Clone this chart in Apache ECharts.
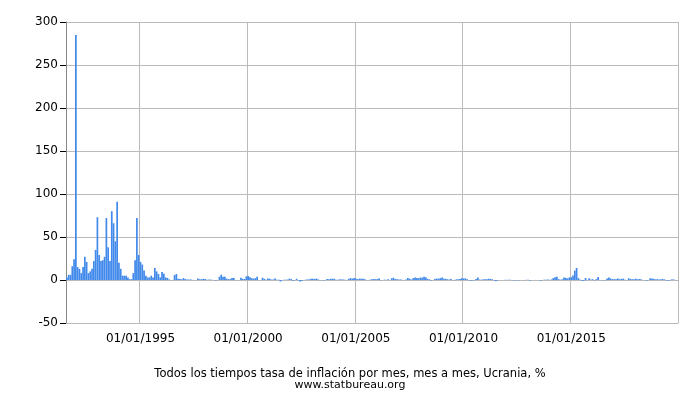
<!DOCTYPE html>
<html><head><meta charset="utf-8">
<script src="https://cdn.jsdelivr.net/npm/echarts@6/dist/echarts.min.js"></script>
<style>html,body{margin:0;padding:0;background:#fff}#c{width:700px;height:400px}</style>
</head><body><div id="c"></div>
<script>
const startYear = 1991, startMonth = 8;
const v1991 = [3,6,6,16,24];
const v1992 = [285,15,13,8,15,27,21,8,10,13,22,35];
const v1993 = [73,29,22,23,27,72,38,22,80,66,45,91];
const v1994 = [20,13,5,5,5,3,1,1,8,23,72,29];
const v1995 = [21,18,11,5,3,3,5,3,14,10,7,3];
const v1996 = [9.4,7.4,3,2.4,0.7,0.1,0.1,5.7,7,1.5,1.2,0.9];
const v1997 = [2.2,1.2,0.5,0.7,0.7,0.1,0.1,0.0,1.8,0.9,0.9,1.4];
const v1998 = [1.3,0.4,0.5,0.5,0.2,0.0,-0.5,0.0,3.8,6.2,3.7,3.8];
const v1999 = [1.5,1.0,1.0,2.3,2.4,0.1,-0.1,0.0,2.6,1.3,1.2,4.3];
const v2000 = [4.6,3.3,2.0,1.7,2.1,3.7,0.0,0.0,2.6,1.4,0.4,1.6];
const v2001 = [1.5,0.6,0.6,1.7,0.4,0.3,-1.7,-0.2,0.4,0.2,0.5,1.6];
const v2002 = [1.0,-1.0,-0.1,1.4,-0.3,-1.8,-1.0,-0.1,0.3,0.7,0.7,1.4];
const v2003 = [1.5,1.2,1.7,0.7,-0.4,0.0,-0.5,0.0,1.2,1.0,1.4,1.5];
const v2004 = [1.4,0.2,0.3,0.8,0.7,0.6,0.2,0.0,1.3,2.2,1.6,2.4];
const v2005 = [1.7,1.0,1.6,1.5,1.5,0.9,0.0,0.0,0.4,0.9,1.2,0.9];
const v2006 = [1.2,1.8,-0.3,0.0,0.5,0.1,0.9,0.0,2.0,2.6,1.1,0.9];
const v2007 = [0.5,0.6,0.2,0.0,0.6,2.2,1.4,0.6,2.2,2.9,2.2,2.1];
const v2008 = [2.9,2.7,3.8,3.1,1.3,0.8,-0.5,-0.1,1.1,1.7,1.5,2.1];
const v2009 = [2.9,1.5,1.4,0.9,0.5,1.1,-0.1,-0.2,0.8,0.9,1.1,2.1];
const v2010 = [1.8,1.9,0.9,-0.3,-0.6,-0.4,-0.2,1.2,2.9,0.5,0.3,0.8];
const v2011 = [1.0,0.9,1.4,1.3,0.8,-0.4,-1.3,-0.4,0.1,0.0,0.1,0.2];
const v2012 = [0.2,0.2,0.3,0.0,-0.3,-0.3,-0.2,-0.3,0.1,0.0,-0.2,0.2];
const v2013 = [0.2,-0.6,0.0,0.0,0.1,0.0,-0.1,-0.7,0.0,0.4,0.2,0.5];
const v2014 = [0.2,0.6,2.2,3.3,3.8,1.0,0.4,0.8,2.9,2.4,1.9,3.0];
const v2015 = [3.1,5.3,10.8,14.0,2.2,0.4,-1.0,-0.8,2.3,-0.1,2.0,0.7];
const v2016 = [0.9,-0.4,1.0,3.5,0.1,-0.2,-0.1,-0.3,1.8,2.8,1.8,0.9];
const v2017 = [1.1,1.0,1.8,0.9,1.3,1.6,0.2,-0.1,2.0,1.2,0.9,1.0];
const v2018 = [1.5,0.9,1.1,0.8,0.0,0.0,-0.7,0.0,1.9,1.7,1.4,0.8];
const v2019 = [1.0,0.5,0.9,1.0,0.7,-0.5,-0.6,-0.3,0.7,0.7,0.1,-0.2];
const values = [].concat(v1991,v1992,v1993,v1994,v1995,v1996,v1997,v1998,v1999,v2000,
  v2001,v2002,v2003,v2004,v2005,v2006,v2007,v2008,v2009,v2010,v2011,v2012,v2013,v2014,
  v2015,v2016,v2017,v2018,v2019);
const labelYears = [1995,2000,2005,2010,2015];
const categories = values.map((_, i) => {
  const m0 = startMonth - 1 + i;
  const y = startYear + Math.floor(m0 / 12), m = m0 % 12 + 1;
  return (m < 10 ? '0' + m : '' + m) + '/01/' + y;
});
const isLabel = (idx, val) => labelYears.some(y => val === '01/01/' + y);
const chart = echarts.init(document.getElementById('c'));
chart.setOption({
  animation: false,
  title: {
    text: 'Todos los tiempos tasa de inflación por mes, mes a mes, Ucrania, %',
    subtext: 'www.statbureau.org',
    left: 'center', top: 363, itemGap: 0,
    textStyle: {fontSize: 11.5, fontWeight: 'normal', color: '#000', fontFamily: 'DejaVu Sans'},
    subtextStyle: {fontSize: 11, color: '#000', fontFamily: 'DejaVu Sans'}
  },
  grid: {left: 66, right: 22, top: 22, bottom: 77},
  xAxis: {
    type: 'category', data: categories, boundaryGap: true,
    axisLine: {onZero: false, lineStyle: {color: '#bbb'}},
    axisTick: {show: false},
    axisLabel: {interval: isLabel, color: '#000', fontSize: 12, fontFamily: 'DejaVu Sans', margin: 10},
    splitLine: {show: true, interval: isLabel, lineStyle: {color: '#bbb'}}
  },
  yAxis: {
    type: 'value', min: -50, max: 300, interval: 50,
    axisLine: {show: true, lineStyle: {color: '#888'}},
    axisTick: {show: true, length: 6, lineStyle: {color: '#000'}},
    axisLabel: {color: '#000', fontSize: 12, fontFamily: 'DejaVu Sans', margin: 8},
    splitLine: {lineStyle: {color: '#bbb'}}
  },
  series: [{type: 'bar', data: values, barCategoryGap: '5%', itemStyle: {color: '#4189ea'}}]
});
</script></body></html>
